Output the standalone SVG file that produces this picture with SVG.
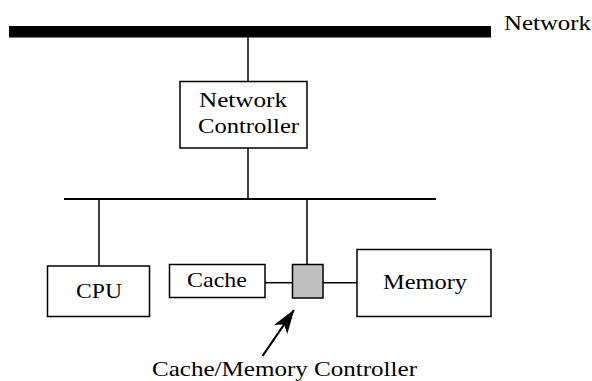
<svg xmlns="http://www.w3.org/2000/svg" width="592" height="381" viewBox="0 0 592 381">
<style>
text { font-family: "Liberation Serif", "Times New Roman", serif; font-size: 22px; fill: #000; }
.box { fill: #fff; stroke: #000; stroke-width: 1.5; }
.ctl { fill: #c0c0c0; stroke: #000; stroke-width: 1.5; }
.ln { stroke: #000; stroke-width: 1.5; fill: none; }
.bus { stroke: #000; stroke-width: 2; fill: none; }
</style>
<defs>
<marker id="ah" markerUnits="userSpaceOnUse" markerWidth="24" markerHeight="16" viewBox="0 0 24 16" refX="23.5" refY="8" orient="auto">
<path d="M0,0 L24,8 L0,16 L6,8 Z" fill="#000"/>
</marker>
</defs>
<g id="network">
<rect x="9" y="26" width="482" height="11.5" fill="#000"/>
<text x="504" y="30" textLength="87" lengthAdjust="spacingAndGlyphs">Network</text>
</g>
<g id="connectors">
<line class="ln" x1="248" y1="37" x2="248" y2="81"/>
<line class="ln" x1="248" y1="148" x2="248" y2="199"/>
<line class="bus" x1="64" y1="199" x2="436" y2="199"/>
<line class="ln" x1="99" y1="199" x2="99" y2="266"/>
<line class="ln" x1="307" y1="199" x2="307" y2="264.5"/>
<line class="ln" x1="265" y1="282.7" x2="292" y2="282.7"/>
<line class="ln" x1="323" y1="282.7" x2="357" y2="282.7"/>
<line stroke="#000" stroke-width="2.2" x1="262.5" y1="356" x2="294" y2="310" marker-end="url(#ah)"/>
</g>
<g id="network-controller">
<rect class="box" x="180" y="81.5" width="127" height="66.5"/>
<text x="199" y="107" textLength="88" lengthAdjust="spacingAndGlyphs">Network</text>
<text x="198" y="133" textLength="101" lengthAdjust="spacingAndGlyphs">Controller</text>
</g>
<g id="cpu">
<rect class="box" x="47.5" y="266" width="102" height="50.5"/>
<text x="76" y="297.5" textLength="46" lengthAdjust="spacingAndGlyphs">CPU</text>
</g>
<g id="cache">
<rect class="box" x="169.5" y="264.5" width="95.5" height="33"/>
<text x="187" y="286.5" textLength="60" lengthAdjust="spacingAndGlyphs">Cache</text>
</g>
<g id="cache-memory-controller">
<rect class="ctl" x="292.5" y="264.5" width="30.5" height="33.5"/>
</g>
<g id="memory">
<rect class="box" x="357" y="249.5" width="134" height="67"/>
<text x="383" y="288.5" textLength="84" lengthAdjust="spacingAndGlyphs">Memory</text>
</g>
<g id="label">
<text x="152" y="376" textLength="265" lengthAdjust="spacingAndGlyphs">Cache/Memory Controller</text>
</g>
</svg>
